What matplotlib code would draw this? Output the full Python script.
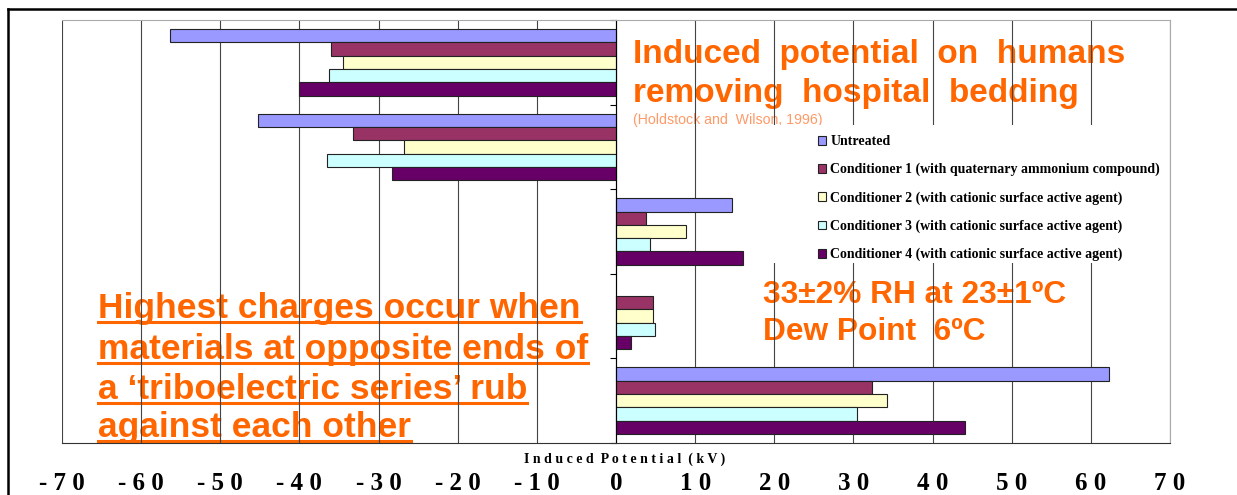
import numpy as np
import matplotlib
matplotlib.use("Agg")
import matplotlib.pyplot as plt
from matplotlib.lines import Line2D
from matplotlib.patches import Rectangle

# data (kV), groups top to bottom
groups = ["Group 1", "Group 2", "Group 3", "Group 4", "Group 5"]
series = ["Untreated",
          "Conditioner 1 (with quaternary ammonium compound)",
          "Conditioner 2 (with cationic surface active agent)",
          "Conditioner 3 (with cationic surface active agent)",
          "Conditioner 4 (with cationic surface active agent)"]
untreated = [-56.3, -45.2, 14.7, np.nan, 62.3]
cond1 = [-36.0, -33.2, 3.8, 4.7, 32.4]
cond2 = [-34.5, -26.8, 8.9, 4.7, 34.3]
cond3 = [-36.3, -36.5, 4.3, 4.9, 30.4]
cond4 = [-40.0, -28.3, 16.1, 1.9, 44.1]
colors = ["#9999FF", "#993366", "#FFFFCC", "#CCFFFF", "#660066"]
xticks = list(range(-70, 80, 10))

W, H = 1237, 495
ORANGE = "#FF6600"

fig = plt.figure(figsize=(W / 100, H / 100), dpi=100)
ax = fig.add_axes([62 / W, 52 / H, 1108 / W, 423 / H])

y = np.arange(len(groups))
h = 0.157
values = [untreated, cond1, cond2, cond3, cond4]
for i, (vals, name, col) in enumerate(zip(values, series, colors)):
    ax.barh(y + (i - 2) * h, vals, height=h, color=col, edgecolor="#222222",
            linewidth=0.8, label=name, zorder=2)

ax.set_xlim(-70, 70)
ax.set_ylim(len(groups) - 0.5, -0.5)
ax.set_xticks(xticks)
ax.set_xticklabels([" ".join(str(t)) for t in xticks],
                   fontfamily="Liberation Serif", fontweight="bold", fontsize=18)
ax.tick_params(axis="x", length=0, pad=21)
ax.set_yticks(np.arange(len(groups) + 1) - 0.5)
ax.set_yticklabels([])
ax.tick_params(axis="y", direction="out", length=4, color="black")
ax.spines["left"].set_position(("data", 0))
ax.spines["left"].set_color("black")
ax.spines["bottom"].set_color("#333333")
ax.spines["top"].set_color("#aaaaaa")
ax.spines["right"].set_color("#aaaaaa")
ax.xaxis.grid(True, color="#444444", linewidth=0.8)
ax.set_axisbelow(True)

ax.text(0.508, -0.038, " ".join("Induced Potential (kV)").replace("   ", "  "),
        transform=ax.transAxes, ha="center", va="center",
        fontfamily="Liberation Serif", fontweight="bold", fontsize=10)

# white box behind the legend hides the gridlines
ax.add_artist(Rectangle((770 / W, 1 - 263 / H), 380 / W, 138 / H,
                        transform=fig.transFigure, facecolor="white",
                        edgecolor="none", zorder=0.8))
ax.legend(loc="upper left", bbox_to_anchor=(818 / W, 1 - 135 / H),
          bbox_transform=fig.transFigure, frameon=False, borderpad=0,
          borderaxespad=0, handlelength=0.6, handleheight=0.6,
          handletextpad=0.3, labelspacing=1.07,
          prop={"family": "Liberation Serif", "weight": "bold", "size": 10})


def ftext(x, y, s, **kw):
    return ax.text(x / W, 1 - y / H, s, transform=fig.transFigure,
                   ha="left", va="baseline", zorder=0.3, **kw)


title = dict(fontfamily="Liberation Sans", fontweight="bold", fontsize=24, color=ORANGE)
ftext(633, 63, "Induced  potential  on  humans", **title)
ftext(633, 102, "removing  hospital  bedding", **title)
ftext(633, 124, "(Holdstock and  Wilson, 1996)", fontfamily="Liberation Sans",
      fontsize=10.2, color="#FF9966")

mid = dict(fontfamily="Liberation Sans", fontweight="bold", fontsize=22.8, color=ORANGE)
ftext(763, 303, "33±2% RH at 23±1ºC", **mid)
ftext(763, 340, "Dew Point  6ºC", **mid)

big = dict(fontfamily="Liberation Sans", fontweight="bold", fontsize=25.5, color=ORANGE)
lines = ["Highest charges occur when",
         "materials at opposite ends of",
         "a \u2018triboelectric series\u2019 rub",
         "against each other"]
bases = [318, 359, 399, 437]
texts = [ftext(98, b, s, **big) for s, b in zip(lines, bases)]

fig.canvas.draw()
r = fig.canvas.get_renderer()
for t, b in zip(texts, bases):
    bb = t.get_window_extent(r)
    yy = 1 - (b + 4) / H
    ax.add_artist(Line2D([bb.x0 / W, bb.x1 / W], [yy, yy], transform=fig.transFigure,
                         color=ORANGE, linewidth=2.2, zorder=0.3))

# outer frame
fig.add_artist(Line2D([8 / W, 1], [1 - 9 / H, 1 - 9 / H], color="black", linewidth=1.8))
fig.add_artist(Line2D([8 / W, 8 / W], [0, 1 - 9 / H], color="black", linewidth=1.8))

fig.savefig("out.png", dpi=100)
